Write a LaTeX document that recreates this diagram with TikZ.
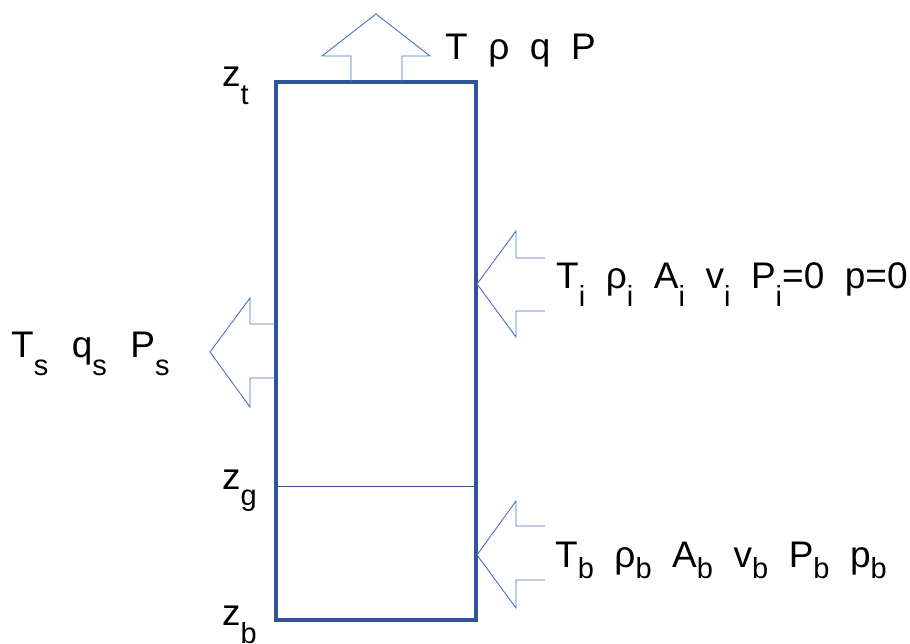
\documentclass[tikz,border=0pt]{standalone}
\usepackage{fontspec}
\setmainfont{Liberation Sans}
\usepackage{tikz}
\usetikzlibrary{positioning}
\definecolor{colblue}{RGB}{47,85,151}
\definecolor{flowblue}{RGB}{68,114,196}
\newcommand\lo[2][18pt]{\raisebox{-#1}{\fontsize{29}{29}\selectfont #2}}

\begin{document}
\begin{tikzpicture}[x=1pt, y=-1pt,
  lbl/.style={anchor=base west, inner sep=0pt, font=\fontsize{37}{37}\selectfont},
  flow/.style={draw=flowblue, line width=0.9pt, line join=miter},
  wall/.style={draw=colblue, line width=3.6pt}
]
  \useasboundingbox (0,0) rectangle (910,644);

  % column
  \node[wall, minimum width=200pt, minimum height=538pt, inner sep=0pt] (col) at (376,351) {};
  \draw[draw=colblue, line width=1pt] (col.west |- 0,486) coordinate (zgl) -- (col.east |- 0,486) coordinate (zgr);

  % flow arrows
  \draw[flow] (351,82) -- (351,56) -- (322,56) -- (376,14) -- (430,56) -- (402,56) -- (402,82);
  \draw[flow] (545,258) -- (516,258) -- (516,231) -- (477,284) -- (516,337) -- (516,311) -- (545,311);
  \draw[flow] (545,526) -- (516,526) -- (516,501) -- (477,555) -- (516,608) -- (516,580) -- (545,580);
  \draw[flow] (276,324) -- (250,324) -- (250,298) -- (210,352) -- (250,407) -- (250,378) -- (276,378);

  % labels
  \node[lbl] (zt) at (222,87) {z\lo{t}};
  \node[lbl] (zg) at (222,489) {z\lo[16pt]{g}};
  \node[lbl] (zb) at (222,625) {z\lo{b}};
  \node[lbl] (top) at (445,60) {T\ \ ρ\ \ q\ \ P};
  \node[lbl] (inflow) at (556,288) {T\lo{i}\ \ ρ\lo{i}\ \ A\lo{i}\ \ v\lo{i}\ \ P\lo{i}=0\ \ p=0};
  \node[lbl] (side) at (11,357) {T\lo{s}\ \ \hspace{3pt}q\lo{s}\ \ \hspace{3pt}P\lo{s}};
  \node[lbl] (bottom) at (555,567) {T\lo[11pt]{b}\ \ ρ\lo[11pt]{b}\ \ A\lo[11pt]{b}\ \ v\lo[11pt]{b}\ \ P\lo[11pt]{b}\ \ p\lo[11pt]{b}};
\end{tikzpicture}
\end{document}
